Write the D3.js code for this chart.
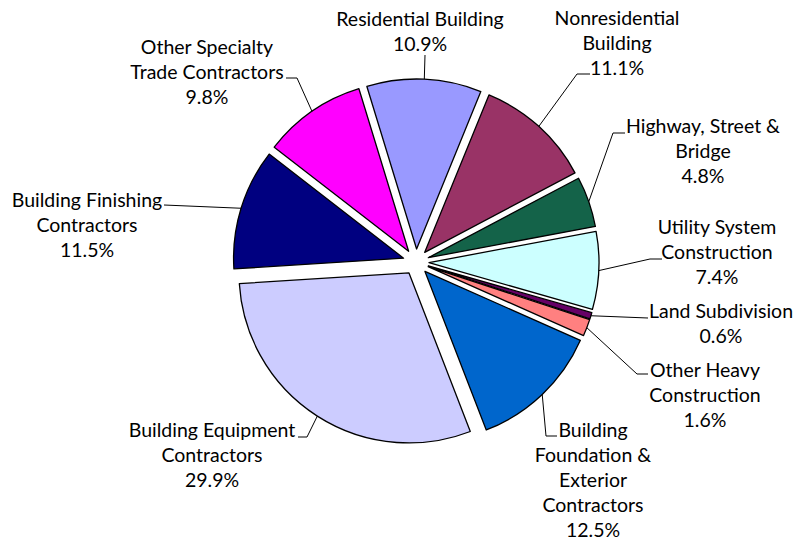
<!DOCTYPE html>
<html>
<head>
<meta charset="utf-8">
<script src="https://cdn.jsdelivr.net/npm/d3@7"></script>
<style>
  body { margin: 0; background: #fff; }
  text { font-family: Lato, "Open Sans", sans-serif; fill: #000; }
</style>
</head>
<body>
<div id="chart"></div>
<script>
// shares of construction employment, percent
const categories = ["Residential Building", "Nonresidential Building", "Highway, Street & Bridge",
    "Utility System Construction", "Land Subdivision", "Other Heavy Construction",
    "Building Foundation & Exterior Contractors", "Building Equipment Contractors",
    "Building Finishing Contractors", "Other Specialty Trade Contractors"];
const shares = [10.9, 11.1, 4.8, 7.4, 0.6, 1.6, 12.5, 29.9, 11.5, 9.8];
const colors = ["#9999ff", "#993366", "#146349", "#ccffff", "#660066", "#ff8080",
    "#0066cc", "#ccccff", "#000080", "#ff00ff"];
// how each category name wraps in its label
const labelLines = [
    ["Residential Building"],
    ["Nonresidential", "Building"],
    ["Highway, Street &", "Bridge"],
    ["Utility System", "Construction"],
    ["Land Subdivision"],
    ["Other Heavy", "Construction"],
    ["Building", "Foundation &", "Exterior", "Contractors"],
    ["Building Equipment", "Contractors"],
    ["Building Finishing", "Contractors"],
    ["Other Specialty", "Trade Contractors"]
];

// label placement: text centre, first baseline, leader bend points
const labelPos = [
    {x: 420, y: 26, leader: [[425, 55]]},
    {x: 617, y: 25, leader: [[577, 74], [590, 74]]},
    {x: 703, y: 133, leader: [[613, 133], [625, 133]]},
    {x: 717, y: 234, leader: [[650, 259], [662, 259]]},
    {x: 721, y: 318, leader: [[648, 318]]},
    {x: 705, y: 377, leader: [[637, 374], [648, 374]]},
    {x: 593, y: 437, leader: [[546, 436], [557, 436]]},
    {x: 212, y: 437, leader: [[307, 437], [298, 437]]},
    {x: 87, y: 207, leader: [[164, 205]]},
    {x: 207, y: 54, leader: [[297, 78], [286, 78]]}
];

const width = 796, height = 542;
const cx = 416, cy = 262, radius = 170, explode = 13;
const lineGap = 25;

const svg = d3.select("#chart").append("svg")
    .attr("width", width)
    .attr("height", height);

const pie = d3.pie()
    .sort(null)
    .startAngle(-17 * Math.PI / 180)
    .endAngle((360 - 17) * Math.PI / 180)
    .value(d => d);

const arcs = pie(shares);

const arc = d3.arc()
    .innerRadius(0)
    .outerRadius(radius);

// offset of each slice along its middle angle
function shift(d, r) {
    let a = (d.startAngle + d.endAngle) / 2;
    return [Math.sin(a) * r, -Math.cos(a) * r];
}

const g = svg.append("g")
    .attr("transform", `translate(${cx}, ${cy})`);

g.selectAll(".slice")
    .data(arcs)
    .enter()
    .append("path")
    .attr("class", "slice")
    .attr("transform", d => {
        let s = shift(d, explode);
        return `translate(${s[0]}, ${s[1]})`;
    })
    .attr("d", arc)
    .attr("fill", (d, i) => colors[i])
    .attr("stroke", "#000")
    .attr("stroke-width", 1.3)
    .attr("stroke-linejoin", "round");

// leader lines from the arc midpoint to the label
const line = d3.line();
svg.selectAll(".leader")
    .data(arcs)
    .enter()
    .append("path")
    .attr("class", "leader")
    .attr("d", (d, i) => {
        let s = shift(d, explode + radius);
        return line([[cx + s[0], cy + s[1]]].concat(labelPos[i].leader));
    })
    .attr("fill", "none")
    .attr("stroke", "#000")
    .attr("stroke-width", 1);

const fmt = d3.format(".1f");
const labels = svg.selectAll(".label")
    .data(arcs)
    .enter()
    .append("text")
    .attr("class", "label")
    .attr("text-anchor", "middle")
    .attr("font-size", 19.5);

labels.each(function(d, i) {
    let lines = labelLines[i].concat([fmt(shares[i]) + "%"]);
    d3.select(this).selectAll("tspan")
        .data(lines)
        .enter()
        .append("tspan")
        .attr("x", labelPos[i].x)
        .attr("y", (t, j) => labelPos[i].y + j * lineGap)
        .text(t => t);
});
</script>
</body>
</html>
